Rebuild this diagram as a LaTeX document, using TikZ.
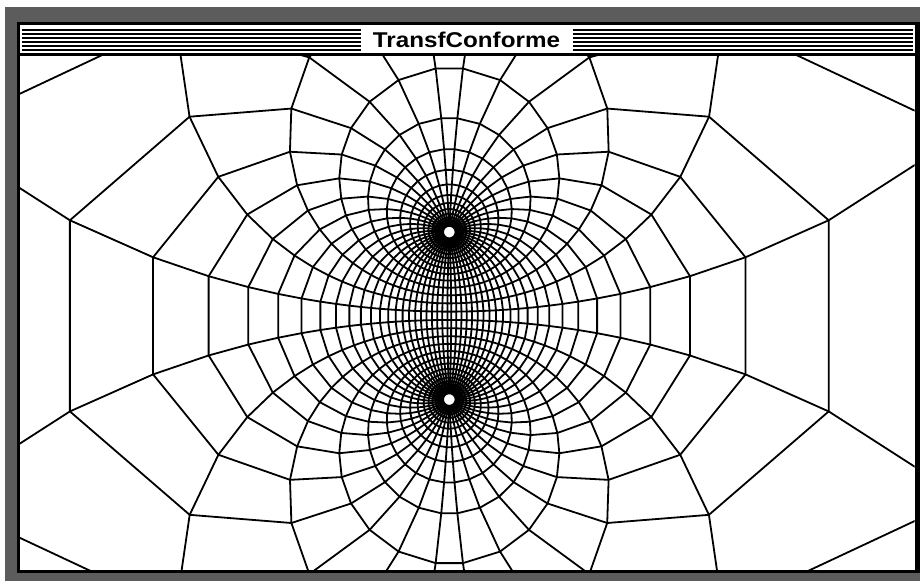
\documentclass[tikz,border=0pt]{standalone}
\usepackage{graphicx}
\usepackage{fontspec}
\setmainfont{Liberation Sans}
\begin{document}
\begin{tikzpicture}[x=1pt,y=1pt,
  declare function={bx(\p,\q)=83.5*sin(\p)/(cosh(\q)-cos(\p));
                    by(\p,\q)=83.5*sinh(\q)/(cosh(\q)-cos(\p));},
  gridline/.style={line width=1.8pt, line join=round},
  dither/.style={fill=black!64},
  stripe/.style={line width=2pt}]
\useasboundingbox (0,0) rectangle (920,-581);
\fill[white] (0,0) rectangle (920,-581);
% window frame
\fill[dither] (5,-7) rectangle (920,-581);
\fill[black] (17,-22) rectangle (920,-572.5);
\fill[white] (19.5,-24.5) rectangle (914.5,-53);
\fill[white] (19.5,-56) rectangle (914.5,-569.5);
% title bar
\foreach \yy in {29.5,33.6,37.7,41.8,45.9,50} {
  \draw[stripe] (22,-\yy) -- (361,-\yy);
  \draw[stripe] (573,-\yy) -- (913,-\yy);
}
\node[inner sep=0pt] (title) at (466.5,-39.5) {\resizebox{187pt}{15.5pt}{\bfseries TransfConforme}};
% conformal grid (bipolar coordinates)
\begin{scope}
\clip (19.5,-56) rectangle (914.5,-569.5);
\begin{scope}[shift={(449.3,-315.8)}]
\foreach \sg in {2.4,9.4,...,177.5,182.6,189.6,...,357.7} {
  \draw[gridline] plot[variable=\t, samples at={-3.3,-3.1,...,3.31}] ({bx(\sg,\t)},{by(\sg,\t)});
}
\foreach \tt in {-3.3,-3.1,...,3.31} {
  \draw[gridline] plot[variable=\s, samples at={2.4,9.4,...,177.5,182.6,189.6,...,357.7,362.4}] ({bx(\s,\tt)},{by(\s,\tt)});
}
\end{scope}
\end{scope}
\end{tikzpicture}
\end{document}
